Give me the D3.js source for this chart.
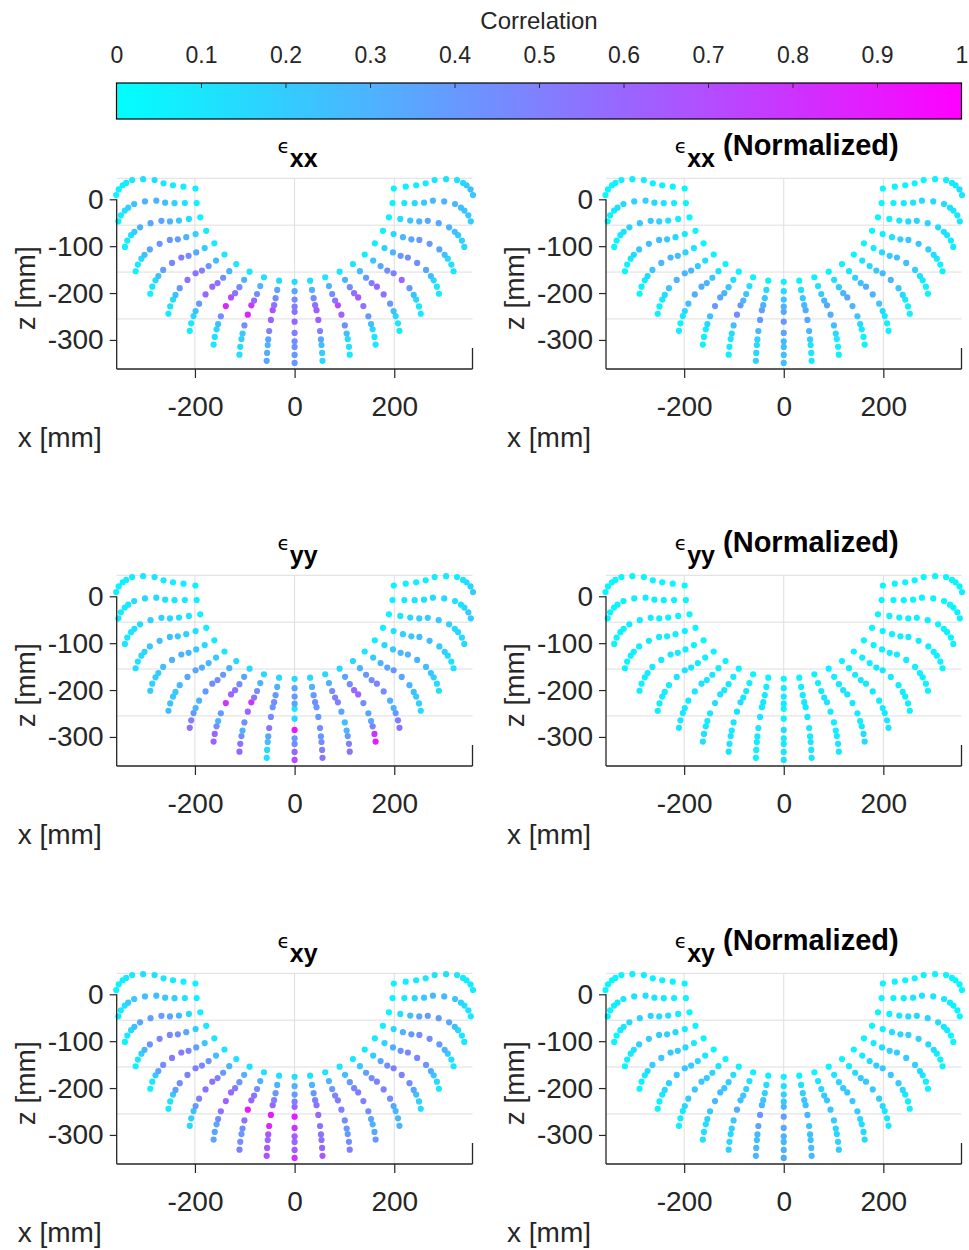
<!DOCTYPE html>
<html>
<head>
<meta charset="utf-8">
<script src="https://cdn.jsdelivr.net/npm/d3@7"></script>
<style>
  html, body { margin: 0; padding: 0; background: #fff; }
  svg { display: block; font-family: "Liberation Sans", Arial, Helvetica, sans-serif; }
</style>
</head>
<body>
<svg id="chart" width="969" height="1250"></svg>
<script>
// Sensor layout: 21 meridians (deg) x 11 rings (outer rim -> inner edge)
const spokeAngle = [180, 189, 198, 207, 216, 225, 234, 243, 252, 261, 270,
                    279, 288, 297, 306, 315, 324, 333, 342, 351, 360];
const ringRadius = [358, 353, 345, 338, 326, 304, 281, 263, 244, 223, 199]; // mm
const ringLift   = [9, 21, 30, 35, 41, 43, 41, 34, 30, 27, 23];             // mm, apparent depth offset

const xTicks = [-200, 0, 200];
const zTicks = [0, -100, -200, -300];
const cbarTicks = [0, 0.1, 0.2, 0.3, 0.4, 0.5, 0.6, 0.7, 0.8, 0.9, 1];

// Correlation per meridian (rows) and ring (columns, rim -> inner)
const corrExx = [
  [.05,.05,.05,.08,.10,.12,.12,.10,.08,.05,.05],
  [.05,.08,.12,.18,.25,.30,.30,.25,.18,.10,.05],
  [.05,.08,.12,.20,.30,.35,.35,.30,.22,.12,.05],
  [.05,.08,.15,.25,.35,.42,.42,.38,.30,.18,.08],
  [.05,.10,.15,.25,.38,.48,.50,.45,.35,.20,.08],
  [.08,.10,.15,.25,.40,.55,.55,.50,.40,.25,.10],
  [.08,.10,.15,.25,.40,.60,.60,.55,.45,.30,.10],
  [.10,.12,.15,.25,.45,.85,.70,.55,.45,.30,.10],
  [.12,.15,.18,.22,.45,.85,.78,.60,.45,.30,.12],
  [.35,.32,.30,.35,.50,.62,.70,.55,.45,.35,.15],
  [.40,.40,.42,.45,.50,.60,.55,.50,.45,.35,.15],
  [.15,.20,.25,.35,.50,.62,.65,.55,.45,.30,.12],
  [.08,.12,.15,.25,.45,.60,.72,.55,.45,.30,.10],
  [.08,.10,.15,.25,.40,.55,.65,.55,.45,.30,.10],
  [.08,.10,.15,.25,.40,.55,.60,.50,.40,.25,.10],
  [.08,.10,.15,.25,.40,.60,.50,.45,.35,.22,.08],
  [.08,.10,.15,.25,.35,.45,.45,.40,.30,.18,.08],
  [.10,.12,.15,.25,.35,.40,.40,.35,.28,.15,.05],
  [.15,.18,.20,.25,.30,.35,.35,.30,.22,.12,.05],
  [.20,.22,.22,.25,.28,.30,.28,.22,.15,.10,.05],
  [.22,.25,.20,.15,.12,.12,.10,.08,.06,.05,.05]
];
const corrExxNorm = [
  [.03,.03,.03,.05,.06,.08,.08,.06,.05,.03,.03],
  [.03,.05,.08,.12,.15,.18,.18,.15,.10,.06,.03],
  [.03,.05,.08,.12,.18,.22,.22,.18,.12,.06,.03],
  [.03,.05,.08,.15,.22,.25,.25,.22,.15,.08,.03],
  [.03,.05,.08,.15,.22,.28,.28,.25,.18,.10,.03],
  [.05,.05,.08,.15,.22,.30,.30,.28,.20,.12,.05],
  [.05,.05,.08,.15,.25,.32,.32,.30,.22,.12,.05],
  [.05,.06,.08,.15,.25,.40,.35,.30,.22,.12,.05],
  [.06,.08,.10,.15,.25,.45,.40,.30,.22,.12,.05],
  [.18,.16,.15,.18,.28,.40,.38,.30,.22,.15,.06],
  [.25,.25,.25,.28,.35,.40,.35,.30,.22,.15,.06],
  [.08,.10,.12,.18,.28,.35,.32,.28,.20,.12,.05],
  [.05,.06,.08,.15,.25,.32,.35,.28,.20,.12,.05],
  [.05,.05,.08,.15,.22,.30,.35,.28,.20,.12,.05],
  [.05,.05,.08,.15,.22,.30,.32,.25,.18,.10,.05],
  [.05,.05,.08,.15,.22,.30,.28,.22,.16,.10,.03],
  [.05,.05,.08,.12,.18,.25,.25,.20,.15,.08,.03],
  [.05,.06,.08,.12,.18,.22,.22,.18,.12,.06,.03],
  [.08,.08,.10,.12,.15,.18,.18,.15,.10,.05,.03],
  [.10,.10,.10,.12,.14,.15,.14,.10,.08,.05,.03],
  [.10,.12,.10,.08,.06,.06,.05,.04,.03,.03,.03]
];
const corrEyy = [
  [.05,.05,.05,.05,.08,.10,.10,.08,.05,.05,.05],
  [.08,.08,.08,.10,.12,.15,.15,.12,.10,.08,.05],
  [.10,.10,.10,.12,.15,.18,.18,.15,.12,.10,.05],
  [.12,.12,.15,.18,.22,.25,.25,.22,.18,.12,.05],
  [.20,.18,.18,.20,.25,.30,.30,.28,.22,.15,.08],
  [.25,.25,.22,.22,.28,.35,.35,.32,.28,.20,.10],
  [.55,.50,.40,.30,.30,.40,.45,.45,.40,.30,.15],
  [.62,.60,.45,.30,.40,.80,.60,.55,.45,.35,.15],
  [.60,.55,.45,.30,.45,.60,.80,.55,.45,.30,.15],
  [.12,.15,.25,.35,.55,.45,.40,.45,.40,.30,.15],
  [.70,.60,.45,.40,.90,.15,.10,.35,.40,.35,.15],
  [.55,.50,.45,.40,.45,.40,.40,.45,.40,.30,.15],
  [.55,.50,.40,.30,.25,.35,.50,.50,.45,.30,.15],
  [.90,.80,.50,.35,.35,.45,.60,.60,.45,.35,.15],
  [.55,.50,.40,.30,.30,.45,.50,.45,.40,.30,.15],
  [.15,.18,.20,.25,.30,.35,.40,.35,.30,.20,.10],
  [.12,.15,.18,.22,.25,.30,.30,.28,.22,.15,.08],
  [.10,.12,.15,.18,.22,.25,.25,.22,.18,.12,.05],
  [.15,.15,.15,.15,.18,.20,.20,.18,.15,.10,.05],
  [.20,.20,.15,.12,.12,.15,.15,.12,.10,.08,.05],
  [.20,.18,.12,.10,.08,.08,.08,.06,.05,.05,.05]
];
const corrEyyNorm = [
  [.03,.03,.03,.03,.04,.05,.05,.04,.03,.03,.03],
  [.04,.04,.04,.05,.06,.06,.06,.05,.05,.04,.03],
  [.04,.04,.05,.05,.06,.07,.07,.06,.05,.04,.03],
  [.05,.05,.05,.06,.07,.08,.08,.07,.06,.05,.03],
  [.06,.06,.06,.07,.08,.09,.09,.08,.07,.05,.03],
  [.07,.07,.07,.07,.08,.10,.10,.09,.08,.06,.04],
  [.10,.10,.08,.08,.08,.10,.11,.10,.09,.07,.04],
  [.12,.11,.09,.08,.09,.13,.11,.10,.09,.07,.04],
  [.11,.10,.09,.08,.09,.11,.13,.10,.09,.07,.04],
  [.05,.06,.07,.08,.10,.09,.08,.09,.08,.06,.04],
  [.12,.11,.09,.08,.14,.05,.04,.08,.08,.07,.04],
  [.10,.10,.09,.08,.09,.08,.08,.09,.08,.06,.04],
  [.10,.10,.08,.07,.06,.08,.10,.10,.09,.06,.04],
  [.14,.13,.09,.08,.08,.09,.11,.11,.09,.07,.04],
  [.10,.10,.08,.07,.07,.09,.10,.09,.08,.06,.04],
  [.05,.06,.06,.07,.08,.08,.09,.08,.07,.05,.03],
  [.05,.05,.06,.06,.07,.08,.08,.07,.06,.05,.03],
  [.04,.05,.05,.06,.06,.07,.07,.06,.05,.04,.03],
  [.05,.05,.05,.05,.05,.06,.06,.05,.05,.04,.03],
  [.06,.06,.05,.04,.04,.05,.05,.04,.04,.03,.03],
  [.06,.05,.04,.04,.03,.03,.03,.03,.03,.03,.03]
];
const corrExy = [
  [.05,.05,.05,.08,.10,.12,.12,.10,.08,.05,.05],
  [.05,.08,.12,.18,.22,.25,.25,.22,.18,.10,.05],
  [.05,.08,.15,.25,.35,.38,.38,.35,.28,.15,.05],
  [.05,.10,.18,.30,.42,.48,.48,.45,.35,.20,.08],
  [.05,.10,.20,.35,.45,.52,.52,.48,.38,.22,.08],
  [.08,.12,.22,.38,.45,.50,.50,.48,.40,.25,.10],
  [.15,.18,.25,.40,.50,.55,.55,.50,.40,.28,.10],
  [.35,.35,.35,.45,.55,.62,.60,.52,.42,.30,.12],
  [.50,.45,.40,.45,.55,.90,.62,.55,.45,.30,.12],
  [.70,.65,.60,.65,.85,.90,.60,.50,.42,.30,.12],
  [.80,.65,.60,.65,.80,.90,.60,.50,.40,.30,.12],
  [.65,.60,.55,.55,.55,.60,.55,.50,.40,.28,.12],
  [.50,.45,.40,.40,.45,.50,.52,.48,.40,.28,.10],
  [.40,.35,.30,.35,.45,.50,.50,.48,.40,.25,.10],
  [.30,.28,.28,.35,.45,.50,.50,.45,.38,.22,.08],
  [.15,.18,.25,.35,.45,.50,.50,.45,.35,.20,.08],
  [.10,.15,.22,.32,.42,.48,.48,.42,.32,.18,.08],
  [.08,.12,.20,.30,.40,.45,.45,.40,.30,.15,.05],
  [.08,.10,.15,.25,.35,.40,.40,.35,.25,.12,.05],
  [.08,.10,.12,.18,.22,.28,.28,.22,.15,.08,.05],
  [.08,.08,.08,.08,.10,.12,.12,.10,.08,.05,.05]
];
const corrExyNorm = [
  [.03,.03,.03,.04,.05,.06,.06,.05,.04,.03,.03],
  [.03,.04,.06,.08,.10,.12,.12,.10,.08,.05,.03],
  [.03,.04,.07,.10,.15,.17,.17,.15,.12,.06,.03],
  [.03,.05,.08,.12,.18,.20,.20,.18,.14,.08,.03],
  [.03,.05,.08,.14,.18,.22,.22,.20,.15,.08,.03],
  [.04,.05,.09,.15,.18,.22,.22,.20,.16,.10,.04],
  [.06,.07,.10,.16,.20,.22,.22,.20,.16,.10,.04],
  [.12,.12,.12,.18,.22,.28,.25,.22,.18,.12,.05],
  [.18,.16,.15,.18,.22,.32,.25,.22,.18,.12,.05],
  [.30,.28,.25,.28,.35,.40,.28,.22,.18,.12,.05],
  [.35,.30,.28,.30,.35,.38,.28,.22,.18,.12,.05],
  [.28,.26,.24,.24,.24,.28,.25,.22,.18,.12,.05],
  [.20,.18,.16,.16,.20,.22,.22,.20,.16,.10,.04],
  [.15,.14,.12,.15,.20,.22,.22,.20,.16,.10,.04],
  [.10,.10,.10,.15,.20,.22,.22,.20,.15,.08,.03],
  [.05,.06,.10,.15,.20,.22,.22,.20,.14,.08,.03],
  [.04,.06,.09,.14,.18,.20,.20,.18,.14,.07,.03],
  [.03,.05,.08,.12,.16,.18,.18,.16,.12,.06,.03],
  [.03,.04,.06,.10,.14,.16,.16,.14,.10,.05,.03],
  [.03,.04,.05,.07,.09,.11,.11,.09,.06,.04,.03],
  [.03,.03,.03,.03,.04,.05,.05,.04,.03,.03,.03]
];

const panels = [
  { sub: "xx", normalized: false, values: corrExx },
  { sub: "xx", normalized: true,  values: corrExxNorm },
  { sub: "yy", normalized: false, values: corrEyy },
  { sub: "yy", normalized: true,  values: corrEyyNorm },
  { sub: "xy", normalized: false, values: corrExy },
  { sub: "xy", normalized: true,  values: corrExyNorm }
];

const svg = d3.select("#chart");
const axisColor = "#262626";
const gridColor = "#dedede";
const fontFam = "Liberation Sans, Arial, sans-serif";

// MATLAB "cool" colormap: cyan -> magenta
const cool = d3.scaleLinear().domain([0, 1]).range(["#00ffff", "#ff00ff"]).clamp(true);

// ---------- colorbar ----------
const cb = { x0: 116.5, x1: 961.5, y0: 83, y1: 119 };
const cbScale = d3.scaleLinear().domain([0, 1]).range([cb.x0, cb.x1]);
const defs = svg.append("defs");
const grad = defs.append("linearGradient").attr("id", "coolGrad")
  .attr("x1", "0%").attr("x2", "100%").attr("y1", "0%").attr("y2", "0%");
cbarTicks.forEach(t => grad.append("stop").attr("offset", (t * 100) + "%").attr("stop-color", cool(t)));

svg.append("rect").attr("x", cb.x0).attr("y", cb.y0)
  .attr("width", cb.x1 - cb.x0).attr("height", cb.y1 - cb.y0)
  .attr("fill", "url(#coolGrad)").attr("stroke", "#000").attr("stroke-width", 1.2);

const cbAxis = d3.axisTop(cbScale).tickValues(cbarTicks)
  .tickFormat(d3.format("~g")).tickSizeInner(-5).tickSizeOuter(0).tickPadding(20);
const cbG = svg.append("g").attr("transform", `translate(0,${cb.y0})`).call(cbAxis);
cbG.select(".domain").remove();
cbG.selectAll(".tick line").attr("stroke", axisColor).attr("stroke-width", 1);
cbG.selectAll(".tick text").attr("fill", axisColor).attr("font-size", 23).attr("font-family", fontFam);
cbG.selectAll(".tick").filter(d => d === 0 || d === 1).select("line").remove();

svg.append("text").attr("x", 539).attr("y", 29).attr("text-anchor", "middle")
  .attr("font-size", 24).attr("fill", axisColor).text("Correlation");

// ---------- panels ----------
const colX = [[116.7, 472.5], [606, 961.5]];
const rowTop = [199.3, 596.3, 994.3];   // pixel row of z = 0 on the front plane
const zDomain = [-362, 0];
const zSpan = 169.7;                    // pixel height of zDomain
const depthShift = 21;                  // back-plane offset of the 3-D box

panels.forEach((p, i) => {
  const col = i % 2, row = Math.floor(i / 2);
  const x = d3.scaleLinear().domain([-357, 357]).range(colX[col]);
  const z = d3.scaleLinear().domain(zDomain).range([rowTop[row] + zSpan, rowTop[row]]);
  const left = colX[col][0], right = colX[col][1];
  const bottom = z(zDomain[0]);
  const g = svg.append("g");

  // back-plane grid
  g.selectAll(".hgrid").data(zTicks).join("line")
    .attr("x1", left).attr("x2", right)
    .attr("y1", d => z(d) - depthShift).attr("y2", d => z(d) - depthShift)
    .attr("stroke", gridColor).attr("stroke-width", 1);
  g.selectAll(".vgrid").data(xTicks).join("line")
    .attr("x1", d => x(d)).attr("x2", d => x(d))
    .attr("y1", z(0) - depthShift).attr("y2", bottom)
    .attr("stroke", gridColor).attr("stroke-width", 1);

  // sensors
  const pts = [];
  p.values.forEach((rowVals, j) => {
    const a = spokeAngle[j] * Math.PI / 180;
    rowVals.forEach((v, k) => {
      pts.push({
        xv: ringRadius[k] * Math.cos(a),
        zv: ringRadius[k] * Math.sin(a) + ringLift[k],
        c: v
      });
    });
  });
  g.selectAll("circle").data(pts).join("circle")
    .attr("cx", d => x(d.xv)).attr("cy", d => z(d.zv))
    .attr("r", 3.1).attr("fill", d => cool(d.c));

  // box edges
  g.append("line").attr("x1", left).attr("x2", left).attr("y1", z(0)).attr("y2", bottom)
    .attr("stroke", axisColor).attr("stroke-width", 1.3);
  g.append("line").attr("x1", left).attr("x2", right).attr("y1", bottom).attr("y2", bottom)
    .attr("stroke", axisColor).attr("stroke-width", 1.3);
  g.append("line").attr("x1", right).attr("x2", right).attr("y1", bottom - depthShift).attr("y2", bottom)
    .attr("stroke", axisColor).attr("stroke-width", 1.3);

  // x axis
  const xAxis = d3.axisBottom(x).tickValues(xTicks).tickSize(9).tickPadding(18).tickFormat(d3.format("d"));
  const xg = g.append("g").attr("transform", `translate(0,${bottom})`).call(xAxis);
  xg.select(".domain").remove();
  xg.selectAll(".tick line").attr("stroke", axisColor).attr("stroke-width", 1.2);
  xg.selectAll(".tick text").attr("fill", axisColor).attr("font-size", 28)
    .attr("font-family", fontFam).text(d => d < 0 ? "-" + Math.abs(d) : d);

  // z axis
  const zAxis = d3.axisLeft(z).tickValues(zTicks).tickSize(7).tickPadding(6).tickFormat(d3.format("d"));
  const zg = g.append("g").attr("transform", `translate(${left},0)`).call(zAxis);
  zg.select(".domain").remove();
  zg.selectAll(".tick line").attr("stroke", axisColor).attr("stroke-width", 1.2);
  zg.selectAll(".tick text").attr("fill", axisColor).attr("font-size", 28)
    .attr("font-family", fontFam).text(d => d < 0 ? "-" + Math.abs(d) : d);

  // axis labels
  g.append("text").attr("x", left - 99).attr("y", bottom + 78)
    .attr("font-size", 28).attr("fill", axisColor).text("x [mm]");
  g.append("text")
    .attr("transform", `translate(${left - 82},${rowTop[row] + 89}) rotate(-90)`)
    .attr("text-anchor", "middle").attr("font-size", 28).attr("fill", axisColor).text("z [mm]");

  // title
  const cx = (left + right) / 2 + 3;
  const t = g.append("text").attr("x", cx).attr("y", rowTop[row] - 46)
    .attr("text-anchor", "middle").attr("fill", "#000");
  t.append("tspan").attr("font-family", "DejaVu Sans, sans-serif").attr("font-size", 20).text("\u03F5");
  t.append("tspan").attr("font-weight", "bold").attr("font-size", 25).attr("dy", 14).text(p.sub);
  if (p.normalized) {
    t.append("tspan").attr("font-weight", "bold").attr("font-size", 29).attr("dy", -12).text(" (Normalized)");
  }
});
</script>
</body>
</html>
